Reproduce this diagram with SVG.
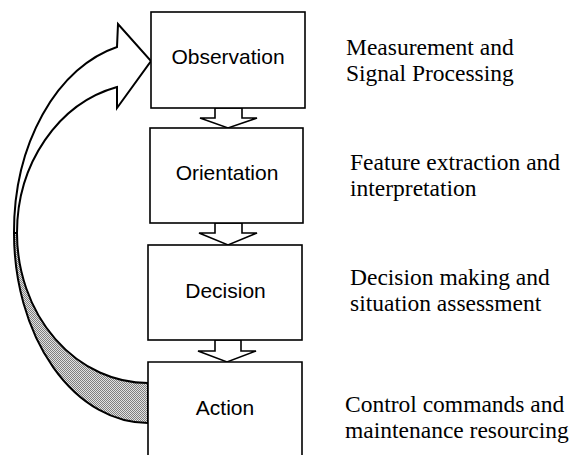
<svg xmlns="http://www.w3.org/2000/svg" width="578" height="455" viewBox="0 0 578 455">
<defs>
<pattern id="stip" width="2" height="2" patternUnits="userSpaceOnUse">
<rect width="2" height="2" fill="#e2e2e2"/>
<rect width="1" height="1" fill="#808080"/>
<rect x="1" y="1" width="1" height="1" fill="#808080"/>
</pattern>
</defs>
<style>
.box{fill:#fff;stroke:#000;stroke-width:1.6}
.lbl{font-family:"Liberation Sans",Arial,sans-serif;font-size:21px;fill:#000;text-anchor:middle}
.note{font-family:"Liberation Serif","Times New Roman",serif;font-size:23.5px;fill:#000}
.blk{fill:#fff;stroke:#000;stroke-width:1.6;stroke-linejoin:miter}
.loop{stroke:#000;stroke-width:2;stroke-linejoin:miter}
</style>
<rect width="578" height="455" fill="#fff"/>
<g id="connectors">
<path class="loop" fill="url(#stip)" d="M14,233 A134 190 0 0 0 148,423 L148,383 A131 150 0 0 1 17,233 Z"/>
<path class="loop" fill="#fff" d="M117,47 L118,24 L151,61 L117,108 L117,87 A131 150 0 0 0 17,233 L14,233 A134 190 0 0 1 117,47 Z"/>
<polygon class="blk" points="215,108 242,108 242,118 257,118 228,128 200,118 215,118"/>
<polygon class="blk" points="215,223 242,223 242,233 257,233 228,245 199,233 215,233"/>
<polygon class="blk" points="215,340 241,340 241,351 256,351 227,362 198,351 215,351"/>
</g>
<g id="observation">
<rect class="box" x="151" y="12" width="154" height="96"/>
<text class="lbl" x="228" y="64">Observation</text>
</g>
<g id="orientation">
<rect class="box" x="150" y="128" width="153" height="95"/>
<text class="lbl" x="227" y="180">Orientation</text>
</g>
<g id="decision">
<rect class="box" x="148" y="245" width="154" height="95"/>
<text class="lbl" x="225.5" y="298">Decision</text>
</g>
<g id="action">
<path class="box" d="M148,458 V362 H302 V458"/>
<text class="lbl" x="225" y="415">Action</text>
</g>
<g id="notes">
<text class="note" x="346" y="55">Measurement and</text>
<text class="note" x="346" y="81">Signal Processing</text>
<text class="note" x="350" y="170">Feature extraction and</text>
<text class="note" x="350" y="196">interpretation</text>
<text class="note" x="350" y="285">Decision making and</text>
<text class="note" x="350" y="311">situation assessment</text>
<text class="note" x="345" y="412">Control commands and</text>
<text class="note" x="345" y="438">maintenance resourcing</text>
</g>
</svg>
